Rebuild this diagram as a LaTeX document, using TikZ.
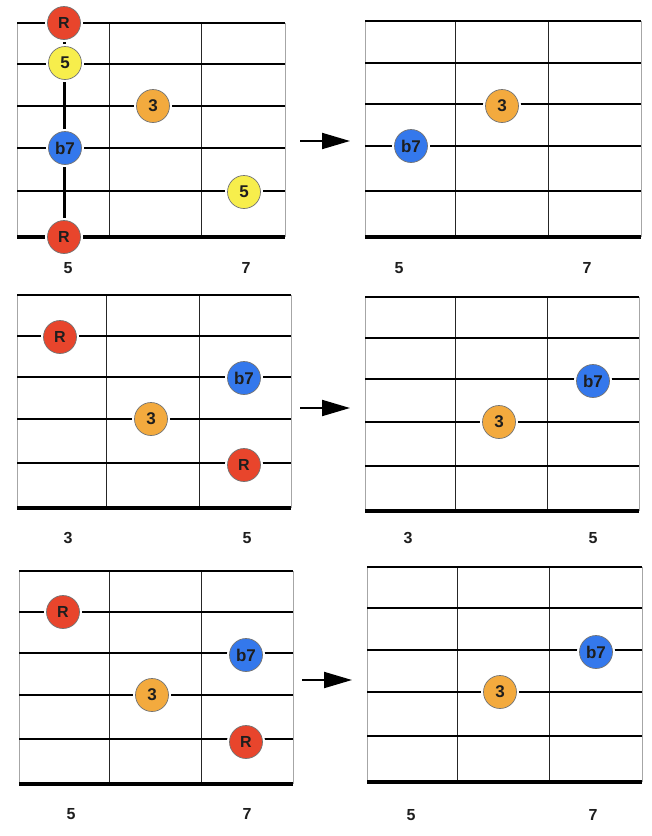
\documentclass[tikz,border=0pt]{standalone}
\usepackage{fontspec}
\setmainfont{Liberation Sans}
\usetikzlibrary{arrows.meta}
\pgfdeclarelayer{bg}
\pgfsetlayers{bg,main}
\definecolor{cR}{HTML}{E8452C}
\definecolor{cY}{HTML}{F7EE4C}
\definecolor{cO}{HTML}{F3AA3E}
\definecolor{cB}{HTML}{3478EC}
\definecolor{txt}{HTML}{1E1E1E}
\tikzset{
  gstring/.style={line width=1.8pt, black},
  gfret/.style={line width=1pt, black!85},
  gedge/.style={line width=0.6pt, black!35},
  gnut/.style={line width=4pt, black},
  gbar/.style={line width=3pt, black},
  dot/.style={circle, minimum size=33pt, inner sep=0pt, draw=black!55, line width=0.7pt,
    font=\bfseries\fontsize{17}{17}\selectfont, text=txt,
    preaction={draw=white, fill=white, line width=5pt}},
  dotR/.style={dot, fill=cR, font=\bfseries\fontsize{16}{16}\selectfont},
  dotY/.style={dot, fill=cY},
  dotO/.style={dot, fill=cO},
  dotB/.style={dot, fill=cB},
  flabel/.style={font=\bfseries\fontsize{16}{16}\selectfont, text=txt, inner sep=0pt},
  moveto/.style={line width=2pt, -{Triangle[length=28pt,width=16pt]}},
}
\newcommand\fboard[7]{%
  \begin{pgfonlayer}{bg}
  \draw[gedge] (#1,#5) -- (#1,#7);
  \draw[gedge] (#2,#5) -- (#2,#7);
  \draw[gfret] (#3,#5) -- (#3,#7);
  \draw[gfret] (#4,#5) -- (#4,#7);
  \draw[gstring] (#1,#5) -- (#2,#5);
  \foreach \yy in {#6} {\draw[gstring] (#1,\yy) -- (#2,\yy);}
  \draw[gnut] (#1,#7) -- (#2,#7);
  \end{pgfonlayer}%
}
\begin{document}
\begin{tikzpicture}[x=1pt,y=-1pt]
\begin{pgfonlayer}{bg}
\fill[white] (0,0) rectangle (652,836);
\end{pgfonlayer}
\useasboundingbox (0,0) rectangle (652,836);

% ---------- Row 1 ----------
\fboard{17}{285}{109}{201}{23}{64,106,148,191}{237}
\fboard{365}{641}{455}{548}{21}{63,104,146,191}{237}
\node[dotR] (a1) at (64,23) {R};
\node[dotY] (a2) at (65,63) {5};
\node[dotO] (a3) at (153,106) {3};
\node[dotB] (a4) at (65,148) {b7};
\node[dotY] (a5) at (244,192) {5};
\node[dotR] (a6) at (64,237) {R};
\begin{pgfonlayer}{bg}
\draw[gbar] (a1.center) -- (a6.center);
\end{pgfonlayer}
\node[dotO] (b1) at (502,106) {3};
\node[dotB] (b2) at (411,146) {b7};
\node[flabel] (la1) at (68,268) {5};
\node[flabel] (la2) at (246,268) {7};
\node[flabel] (lb1) at (399,268) {5};
\node[flabel] (lb2) at (587,268) {7};
\coordinate (r1s) at (300,141);
\coordinate (r1e) at (350,141);
\draw[moveto] (r1s) -- (r1e);

% ---------- Row 2 ----------
\fboard{17}{291}{106}{199}{295}{336,377,419,463}{508}
\fboard{365}{639}{455}{547}{297}{338,379,422,466}{511}
\node[dotR] (c1) at (60,337) {R};
\node[dotB] (c2) at (244,378) {b7};
\node[dotO] (c3) at (151,419) {3};
\node[dotR] (c4) at (244,465) {R};
\node[dotB] (d1) at (593,381) {b7};
\node[dotO] (d2) at (499,422) {3};
\node[flabel] (lc1) at (68,538) {3};
\node[flabel] (lc2) at (247,538) {5};
\node[flabel] (ld1) at (408,538) {3};
\node[flabel] (ld2) at (593,538) {5};
\coordinate (r2s) at (300,408);
\coordinate (r2e) at (350,408);
\draw[moveto] (r2s) -- (r2e);

% ---------- Row 3 ----------
\fboard{19}{293}{109}{201}{571}{612,653,695,739}{784}
\fboard{367}{642}{457}{549}{567}{608,650,692,736}{782}
\node[dotR] (e1) at (63,612) {R};
\node[dotB] (e2) at (246,655) {b7};
\node[dotO] (e3) at (152,695) {3};
\node[dotR] (e4) at (246,742) {R};
\node[dotB] (f1) at (596,652) {b7};
\node[dotO] (f2) at (500,692) {3};
\node[flabel] (le1) at (71,814) {5};
\node[flabel] (le2) at (247,814) {7};
\node[flabel] (lf1) at (411,815) {5};
\node[flabel] (lf2) at (593,815) {7};
\coordinate (r3s) at (302,680);
\coordinate (r3e) at (352,680);
\draw[moveto] (r3s) -- (r3e);
\end{tikzpicture}
\end{document}
